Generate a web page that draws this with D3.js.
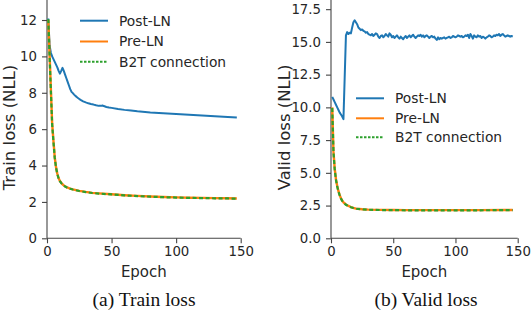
<!DOCTYPE html>
<html><head><meta charset="utf-8">
<script src="https://cdn.jsdelivr.net/npm/d3@7"></script>
<style>body{margin:0;background:#fff}svg{display:block}</style>
</head><body><svg id="c" width="532" height="312"></svg>
<script>
// ---- data ----
const seriesNames = ["Post-LN", "Pre-LN", "B2T connection"];
const xTicks = [0, 50, 100, 150];
const trainYTicks = [0, 2, 4, 6, 8, 10, 12];
const validYTicks = [0, 2.5, 5, 7.5, 10, 12.5, 15, 17.5];

const postTrainEpochs = [1,2,3,4,5,6,7,8,9,10,11,12,13,14,15,16,17,18,19,20,21,22,23,24,25,26,27,28,29,30,32,34,36,38,40,42,43,44,46,48,50,55,60,65,70,80,90,100,110,120,130,140,147];
const postTrain = [12.08,10.6,10.2,10.0,9.85,9.7,9.55,9.4,9.2,9.05,9.2,9.37,9.2,9.0,8.8,8.6,8.4,8.2,8.05,7.98,7.9,7.83,7.77,7.71,7.66,7.61,7.57,7.53,7.5,7.47,7.42,7.38,7.35,7.31,7.28,7.28,7.3,7.27,7.22,7.19,7.17,7.11,7.06,7.02,6.98,6.92,6.88,6.83,6.79,6.75,6.71,6.67,6.64];

const preTrainEpochs = [1,2,3,4,5,6,7,8,9,10,11,12,13,14,16,18,20,25,30,35,40,50,60,70,80,90,100,110,120,130,140,147];
const preTrain = [12.0,10.1,8.2,6.3,5.35,4.45,3.9,3.55,3.3,3.15,3.05,2.97,2.91,2.86,2.78,2.73,2.69,2.61,2.55,2.50,2.47,2.42,2.37,2.33,2.30,2.27,2.25,2.23,2.22,2.21,2.20,2.19];
const b2tTrain = [12.05,10.0,8.1,6.25,5.3,4.42,3.88,3.53,3.29,3.14,3.04,2.96,2.90,2.85,2.77,2.72,2.68,2.60,2.54,2.49,2.46,2.41,2.36,2.32,2.29,2.26,2.24,2.22,2.21,2.20,2.19,2.18];

const postValid = [10.8,10.6,10.4,10.2,10.0,9.8,9.6,9.45,9.3,9.1,12.3,15.5,15.75,15.6,15.7,15.65,16.1,16.5,16.65,16.5,16.35,16.1,16.0,15.9,15.95,15.85,15.8,15.7,15.75,15.6,15.55,15.5,15.6,15.45,15.55,15.65,15.6,15.4,15.3,15.45,15.5,15.35,15.45,15.6,15.5,15.4,15.65,15.55,15.35,15.45,15.3,15.4,15.5,15.35,15.25,15.4,15.3,15.2,15.35,15.45,15.3,15.4,15.5,15.35,15.45,15.55,15.4,15.3,15.4,15.5,15.45,15.55,15.4,15.5,15.35,15.45,15.5,15.4,15.3,15.4,15.45,15.35,15.4,15.25,15.15,15.35,15.2,15.3,15.25,15.3,15.35,15.25,15.3,15.35,15.4,15.3,15.35,15.45,15.4,15.35,15.4,15.5,15.45,15.4,15.45,15.35,15.4,15.5,15.45,15.55,15.3,15.6,15.45,15.25,15.5,15.4,15.35,15.5,15.4,15.45,15.3,15.4,15.35,15.25,15.35,15.4,15.5,15.45,15.35,15.4,15.5,15.45,15.55,15.5,15.6,15.45,15.55,15.6,15.5,15.4,15.45,15.5,15.45,15.4,15.45,15.4];

const preValidEpochs = [1,2,3,4,5,6,7,8,9,10,12,14,16,18,20,25,30,40,50,60,80,100,120,140,146];
const preValid = [10.0,6.6,5.3,4.5,4.0,3.6,3.3,3.05,2.88,2.75,2.58,2.47,2.39,2.32,2.27,2.22,2.19,2.17,2.16,2.15,2.15,2.15,2.15,2.16,2.16];
const b2tValid = [9.95,6.55,5.25,4.45,3.95,3.57,3.27,3.03,2.86,2.73,2.56,2.45,2.37,2.31,2.26,2.21,2.18,2.16,2.15,2.14,2.14,2.14,2.14,2.15,2.15];

// ---- drawing ----
const colors = ["#1f77b4", "#ff7f0e", "#2ca02c"];
const svg = d3.select("#c");
const tickFont = "DejaVu Sans";

function panel(o) {
  const x = d3.scaleLinear().domain([0, 150]).range([o.x0, o.x1]);
  const y = d3.scaleLinear().domain([0, o.ymax]).range([238.3, 0]);
  const g = svg.append("g");
  const line = (ex, vs) => d3.line().x((d, i) => x(ex[i])).y(d => y(d))(vs);

  const ax = g.append("g").attr("transform", "translate(0,238.3)")
    .call(d3.axisBottom(x).tickValues(xTicks).tickSize(5).tickPadding(3.5).tickFormat(d3.format("d")));
  const ay = g.append("g").attr("transform", `translate(${o.x0},0)`)
    .call(d3.axisLeft(y).tickValues(o.yTicks).tickSize(5).tickPadding(5).tickFormat(o.fmt));
  [ax, ay].forEach(a => {
    a.select(".domain").attr("stroke", "#444").attr("stroke-width", 1.1);
    a.selectAll(".tick line").attr("stroke", "#444").attr("stroke-width", 1.1);
    a.selectAll(".tick text").attr("fill", "#262626").style("font-family", tickFont).style("font-size", "13.3px");
  });
  ay.select(".domain").attr("d", `M0,238.3V0`);
  ax.select(".domain").attr("d", `M${o.x0},0H${o.x1}`);

  g.append("path").attr("d", line(o.postE, o.post)).attr("fill", "none").attr("stroke", colors[0]).attr("stroke-width", 2).attr("stroke-linejoin", "round");
  g.append("path").attr("d", line(o.preE, o.pre)).attr("fill", "none").attr("stroke", colors[1]).attr("stroke-width", 2.4).attr("stroke-linejoin", "round");
  g.append("path").attr("d", line(o.preE, o.b2t)).attr("fill", "none").attr("stroke", colors[2]).attr("stroke-width", 2.2).attr("stroke-dasharray", "4,2.5");

  // labels
  g.append("text").attr("x", (o.x0 + o.x1) / 2).attr("y", 277).attr("text-anchor", "middle")
    .style("font-family", tickFont).style("font-size", "15px").attr("fill", "#262626").text("Epoch");
  g.append("text").attr("transform", `translate(${o.ylx},127.5) rotate(-90)`).attr("text-anchor", "middle")
    .style("font-family", tickFont).style("font-size", "16.5px").attr("fill", "#262626").text(o.ylabel);
  g.append("text").attr("x", o.capX).attr("y", 306).attr("text-anchor", "middle")
    .attr("textLength", 103).attr("lengthAdjust", "spacingAndGlyphs")
    .style("font-family", "Liberation Serif").style("font-size", "18px").attr("fill", "#111").text(o.caption);

  // legend
  seriesNames.forEach((n, i) => {
    const yy = o.legY[i];
    g.append("line").attr("x1", o.legX).attr("x2", o.legX + 28).attr("y1", yy).attr("y2", yy)
      .attr("stroke", colors[i]).attr("stroke-width", 2)
      .attr("stroke-dasharray", i === 2 ? "2.5,1.5" : null);
    g.append("text").attr("x", o.legX + 39).attr("y", yy).attr("dy", "0.35em")
      .style("font-family", tickFont).style("font-size", "13.8px").attr("fill", "#262626").text(n);
  });
}

const validEpochs = postValid.map((d, i) => i + 1);

panel({x0: 47, x1: 240.7, ymax: 13.1, yTicks: trainYTicks, fmt: d3.format("d"),
  postE: postTrainEpochs, post: postTrain, preE: preTrainEpochs, pre: preTrain, b2t: b2tTrain,
  ylabel: "Train loss (NLL)", ylx: 15, caption: "(a) Train loss", capX: 144,
  legX: 80, legY: [20.7, 41.5, 61.7]});
panel({x0: 331, x1: 517.7, ymax: 18.2, yTicks: validYTicks, fmt: d3.format(".1f"),
  postE: validEpochs, post: postValid, preE: preValidEpochs, pre: preValid, b2t: b2tValid,
  ylabel: "Valid loss (NLL)", ylx: 289.5, caption: "(b) Valid loss", capX: 426,
  legX: 356, legY: [98.3, 118.3, 137.3]});
</script></body></html>
